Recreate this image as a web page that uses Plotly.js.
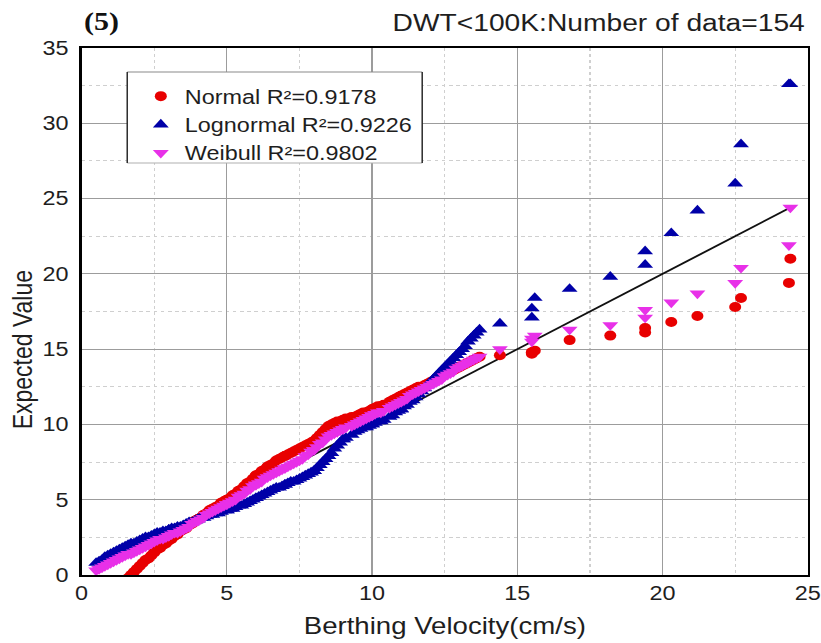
<!DOCTYPE html>
<html>
<head>
<meta charset="utf-8">
<script src="https://cdn.plot.ly/plotly-3.0.1.min.js"></script>
<style>
html,body{margin:0;padding:0;background:#fff;overflow:hidden;}
#chart{width:684px;height:643px;transform:scale(1.2003,1);transform-origin:0 0;}
</style>
</head>
<body>
<div id="chart"></div>
<script>
// Berthing velocity (cm/s), sorted, shared by the three series
const velocity = [
  0.5,0.6,0.7,0.8,0.9,1.0,1.1,1.2,1.3,1.4,
  1.5,1.6,1.7,1.8,1.9,2.0,2.1,2.2,2.3,2.4,
  2.5,2.6,2.7,2.8,2.9,3.0,3.0,3.1,3.2,3.3,
  3.4,3.5,3.6,3.7,3.8,3.9,4.0,4.0,4.1,4.2,
  4.3,4.4,4.5,4.6,4.7,4.8,4.9,5.0,5.0,5.1,
  5.2,5.3,5.4,5.5,5.6,5.7,5.8,5.9,6.0,6.0,
  6.1,6.2,6.3,6.4,6.5,6.6,6.7,6.8,6.9,7.0,
  7.0,7.1,7.2,7.3,7.4,7.5,7.6,7.7,7.8,7.9,
  8.0,8.0,8.1,8.2,8.3,8.4,8.5,8.6,8.7,8.8,
  8.9,9.0,9.0,9.1,9.3,9.4,9.5,9.6,9.7,9.8,
  9.9,10.0,10.0,10.1,10.2,10.3,10.4,10.6,10.7,10.8,
  10.9,11.0,11.0,11.1,11.2,11.3,11.4,11.5,11.6,11.7,
  11.8,11.9,12.0,12.1,12.2,12.3,12.4,12.5,12.6,12.7,
  12.8,12.9,13.0,13.1,13.2,13.3,13.4,13.5,13.6,13.7,
  14.4,15.5,15.5,15.6,16.8,18.2,19.4,19.4,20.3,21.2,22.5,22.7,24.35,24.4
];

// Expected value, Normal distribution
const normalExpected = [
  -2.0,-1.8,-1.7,-1.5,-1.4,-1.2,-1.0,-0.9,-0.7,-0.6,
  -0.4,-0.2,0.0,0.2,0.4,0.6,0.8,1.0,1.1,1.3,
  1.5,1.7,1.8,2.0,2.1,2.3,2.3,2.4,2.6,2.7,
  2.9,3.0,3.1,3.3,3.4,3.6,3.7,3.7,3.8,4.0,
  4.1,4.3,4.4,4.5,4.6,4.8,4.9,5.0,5.0,5.1,
  5.3,5.4,5.6,5.7,5.9,6.1,6.2,6.4,6.6,6.6,
  6.7,6.9,7.0,7.2,7.3,7.4,7.6,7.7,7.8,7.9,
  7.9,8.0,8.1,8.2,8.3,8.4,8.5,8.6,8.7,8.8,
  8.9,8.9,9.1,9.3,9.5,9.7,9.9,10.0,10.1,10.2,
  10.2,10.3,10.3,10.4,10.5,10.5,10.6,10.7,10.8,10.8,
  10.9,11.0,11.0,11.1,11.2,11.2,11.3,11.5,11.6,11.7,
  11.8,11.9,11.9,12.0,12.1,12.2,12.3,12.4,12.5,12.5,
  12.6,12.7,12.8,12.9,13.0,13.1,13.2,13.3,13.4,13.5,
  13.6,13.7,13.8,13.9,14.0,14.1,14.2,14.3,14.4,14.5,
  14.6,14.7,14.8,14.9,15.6,15.9,16.1,16.4,16.8,17.2,17.8,18.4,19.4,21.0
];

// Expected value, Lognormal distribution
const lognormalExpected = [
  0.8,0.9,1.0,1.2,1.3,1.4,1.5,1.6,1.7,1.8,
  1.9,2.0,2.1,2.1,2.2,2.3,2.4,2.5,2.5,2.6,
  2.7,2.8,2.8,2.9,2.9,3.0,3.0,3.1,3.1,3.2,
  3.2,3.3,3.4,3.5,3.5,3.6,3.7,3.7,3.8,3.8,
  3.9,4.0,4.0,4.1,4.1,4.2,4.3,4.3,4.3,4.4,
  4.4,4.5,4.6,4.6,4.7,4.8,4.9,5.0,5.1,5.1,
  5.2,5.3,5.4,5.5,5.6,5.7,5.8,5.8,5.9,6.0,
  6.0,6.1,6.2,6.2,6.3,6.4,6.5,6.6,6.7,6.8,
  6.9,6.9,7.1,7.3,7.5,7.7,7.9,8.1,8.4,8.6,
  8.8,9.0,9.0,9.1,9.3,9.5,9.6,9.7,9.8,9.8,
  9.9,10.0,10.0,10.1,10.2,10.2,10.3,10.5,10.6,10.8,
  10.9,11.0,11.0,11.2,11.3,11.5,11.6,11.8,12.0,12.2,
  12.4,12.6,12.8,13.0,13.2,13.4,13.6,13.8,14.0,14.2,
  14.4,14.6,14.8,15.0,15.2,15.5,15.7,15.9,16.1,16.3,
  16.7,17.1,17.7,18.4,19.0,19.8,20.6,21.5,22.7,24.2,26.0,28.6,32.6,32.6
];

// Expected value, Weibull distribution
const weibullExpected = [
  0.3,0.4,0.5,0.6,0.7,0.8,0.9,1.0,1.1,1.2,
  1.3,1.4,1.4,1.5,1.6,1.7,1.8,1.9,2.0,2.1,
  2.2,2.3,2.4,2.4,2.5,2.6,2.6,2.7,2.8,2.8,
  2.9,3.0,3.1,3.2,3.4,3.5,3.6,3.6,3.7,3.8,
  4.0,4.1,4.2,4.3,4.4,4.5,4.6,4.7,4.7,4.8,
  4.9,5.0,5.2,5.3,5.4,5.6,5.7,5.9,6.0,6.0,
  6.1,6.2,6.4,6.5,6.6,6.7,6.8,6.9,7.0,7.1,
  7.1,7.2,7.3,7.4,7.5,7.6,7.7,7.9,8.0,8.2,
  8.3,8.3,8.5,8.7,8.8,9.0,9.2,9.3,9.4,9.5,
  9.6,9.7,9.7,9.8,9.9,10.0,10.1,10.2,10.3,10.4,
  10.5,10.6,10.6,10.7,10.8,10.8,10.9,11.1,11.2,11.3,
  11.4,11.5,11.5,11.6,11.7,11.9,12.0,12.1,12.2,12.3,
  12.4,12.5,12.6,12.7,12.8,12.9,13.0,13.2,13.3,13.4,
  13.5,13.7,13.8,13.9,14.0,14.1,14.2,14.3,14.4,14.5,
  15.0,15.5,15.7,15.9,16.3,16.6,17.1,17.6,18.1,18.7,19.4,20.4,21.9,24.4
];

// Reference line (expected = observed)
const refLineX = [0.5, 24.5];
const refLineY = [0.5, 24.5];

const seriesNames = ['Normal R²=0.9178', 'Lognormal R²=0.9226', 'Weibull R²=0.9802'];
const titleLeft = '(5)';
const titleRight = 'DWT&lt;100K:Number of data=154';
const xTitle = 'Berthing Velocity(cm/s)';
const yTitle = 'Expected Value';

const SANS = 'Liberation Sans, Arial, sans-serif';
const INK = '#1e1e1e';

const traces = [
  {x: refLineX, y: refLineY, type: 'scatter', mode: 'lines',
   line: {color: '#111', width: 1.8}, showlegend: false, hoverinfo: 'skip'},
  {x: velocity, y: normalExpected, type: 'scatter', mode: 'markers', name: seriesNames[0],
   marker: {symbol: 'circle', size: 10, color: '#e80000'}},
  {x: velocity, y: lognormalExpected, type: 'scatter', mode: 'markers', name: seriesNames[1],
   marker: {symbol: 'triangle-up', size: 11.5, color: '#0000a8'}},
  {x: velocity, y: weibullExpected, type: 'scatter', mode: 'markers', name: seriesNames[2],
   marker: {symbol: 'triangle-down', size: 11.5, color: '#e830e8'}}
];

const axisCommon = {
  showgrid: true, gridcolor: '#9c9c9c', gridwidth: 1,
  zeroline: false, showline: true, mirror: true, linecolor: '#000', linewidth: 2,
  ticks: '', tickfont: {family: SANS, size: 19.5, color: INK},
  minor: {dtick: 2.5, showgrid: true, gridcolor: '#cfcfcf', griddash: 'dot', gridwidth: 1}
};

// plot area: x 68..673, y 48..575 (before the horizontal 1.2 stretch)
const layout = {
  width: 684, height: 643,
  margin: {l: 68, r: 11, t: 48, b: 68},
  paper_bgcolor: '#fff', plot_bgcolor: '#fff',
  font: {family: SANS, color: INK},
  xaxis: Object.assign({}, axisCommon, {range: [0, 25], dtick: 5, tick0: 0,
    ticklabelstandoff: 0, ticklabeloverflow: 'allow'}),
  yaxis: Object.assign({}, axisCommon, {range: [0, 35], dtick: 5, tick0: 0,
    ticklabelstandoff: 5, ticklabeloverflow: 'allow'}),
  legend: {
    x: 0.076, y: 0.945, xanchor: 'left', yanchor: 'top',
    bgcolor: 'rgba(0,0,0,0)', borderwidth: 0,
    font: {family: SANS, size: 19.5, color: INK},
    itemwidth: 30, tracegroupgap: 0
  },
  shapes: [
    {type: 'rect', xref: 'paper', yref: 'paper', x0: 0.0628, x1: 0.469, y0: 0.782, y1: 0.9545,
     fillcolor: '#fff', line: {width: 0}, layer: 'above'},
    {type: 'line', xref: 'paper', yref: 'paper', x0: 0.0628, x1: 0.469, y0: 0.9545, y1: 0.9545,
     line: {color: '#8a8a8a', width: 1}, layer: 'above'},
    {type: 'line', xref: 'paper', yref: 'paper', x0: 0.0628, x1: 0.469, y0: 0.782, y1: 0.782,
     line: {color: '#b0b0b0', width: 1}, layer: 'above'},
    {type: 'line', xref: 'paper', yref: 'paper', x0: 0.0628, x1: 0.0628, y0: 0.782, y1: 0.9545,
     line: {color: '#222', width: 1.2}, layer: 'above'},
    {type: 'line', xref: 'paper', yref: 'paper', x0: 0.469, x1: 0.469, y0: 0.782, y1: 0.9545,
     line: {color: '#222', width: 1.2}, layer: 'above'}
  ],
  annotations: [
    {text: '<b>' + titleLeft + '</b>', xref: 'paper', yref: 'paper', x: 0.0, y: 1.049,
     xanchor: 'left', yanchor: 'middle', showarrow: false,
     font: {family: 'Liberation Serif, Times New Roman, serif', size: 25, color: '#111'}},
    {text: titleRight, xref: 'paper', yref: 'paper', x: 1.0, y: 1.047,
     xanchor: 'right', yanchor: 'middle', showarrow: false,
     font: {family: SANS, size: 23.5, color: INK}},
    {text: xTitle, xref: 'paper', yref: 'paper', x: 0.5, y: -0.097,
     xanchor: 'center', yanchor: 'middle', showarrow: false,
     font: {family: SANS, size: 23, color: INK}},
    {text: yTitle, xref: 'paper', yref: 'paper', x: -0.082, y: 0.427, textangle: -90,
     xanchor: 'center', yanchor: 'middle', showarrow: false,
     font: {family: SANS, size: 23, color: INK}}
  ],
  showlegend: true
};

Plotly.newPlot('chart', traces, layout, {staticPlot: true, displayModeBar: false});
</script>
</body>
</html>
